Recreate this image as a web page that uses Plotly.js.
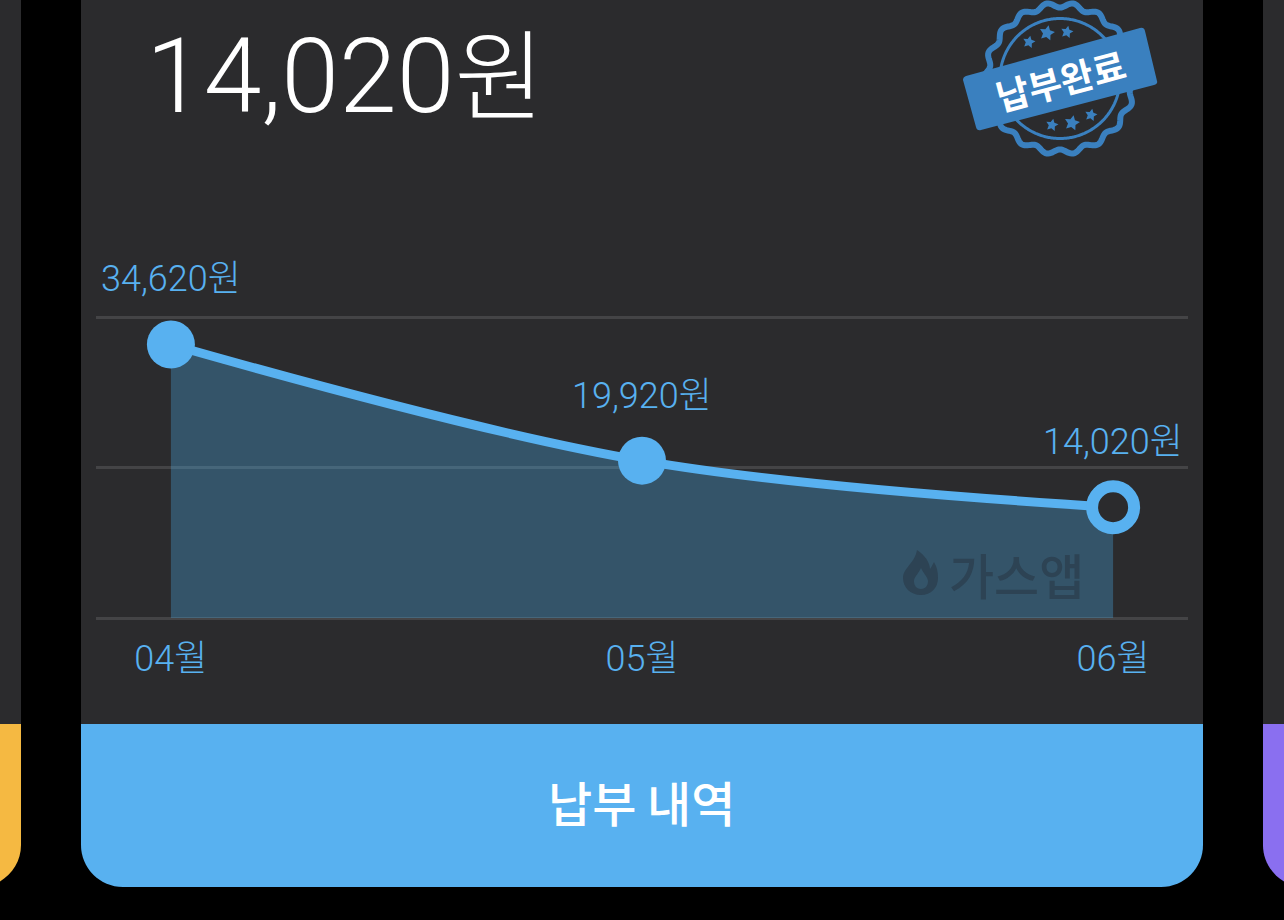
<!DOCTYPE html>
<html>
<head>
<meta charset="utf-8">
<script src="https://cdn.plot.ly/plotly-3.0.1.min.js"></script>
<style>html,body{margin:0;padding:0;background:#000;overflow:hidden}#chart{width:1284px;height:920px}</style>
</head>
<body>
<div id="chart"></div>
<script>
const months = ['04월', '05월', '06월'];
const amounts = [34620, 19920, 14020];
const amountLabels = ['34,620원', '19,920원', '14,020원'];
const gridValues = [0, 19050, 38100];
const headline = '14,020<span style="font-size:98px">원</span>';
const stampText = '납부완료';
const watermarkText = '가스앱';
const buttonText = '납부 내역';

const W = 1284, H = 920;
const KR = '"Noto Sans CJK KR","Noto Sans",sans-serif';
const LATIN = 'Roboto,"Noto Sans CJK KR",sans-serif';
const BLUE = '#58b1f0', CARD = '#2b2b2d', STAMP = '#3a80bf', MARK = '#2d4354';
const px = x => x / W, py = y => 1 - y / H;
const P = (x, y) => px(x).toFixed(5) + ' ' + py(y).toFixed(5);

function bottomRounded(x0, y0, x1, y1, r) {
  const k = r * 0.4477;
  return 'M' + P(x0, y0) + ' L' + P(x1, y0) + ' L' + P(x1, y1 - r) +
    ' C' + P(x1, y1 - k) + ' ' + P(x1 - k, y1) + ' ' + P(x1 - r, y1) +
    ' L' + P(x0 + r, y1) +
    ' C' + P(x0 + k, y1) + ' ' + P(x0, y1 - k) + ' ' + P(x0, y1 - r) + ' Z';
}
function ringPath(cx, cy, rad, amp, waves) {
  let d = '';
  for (let i = 0; i <= 360; i++) {
    const t = i / 360 * 2 * Math.PI, r = rad + amp * Math.cos(waves * t);
    d += (i ? ' L' : 'M') + P(cx + r * Math.cos(t), cy + r * Math.sin(t));
  }
  return d + ' Z';
}
function starPath(cx, cy, r, rot) {
  let d = '';
  for (let i = 0; i < 10; i++) {
    const a = rot + i * Math.PI / 5 - Math.PI / 2, q = i % 2 ? r * 0.5 : r;
    d += (i ? ' L' : 'M') + P(cx + q * Math.cos(a), cy + q * Math.sin(a));
  }
  return d + ' Z';
}
function bannerPath() {
  return 'M' + P(966, 76) + ' L' + P(1140, 28) + ' Q' + P(1144, 27) + ' ' + P(1145, 31) +
    ' L' + P(1157, 81) + ' Q' + P(1158, 84) + ' ' + P(1154, 85) +
    ' L' + P(981, 130) + ' Q' + P(977, 131) + ' ' + P(976, 127) +
    ' L' + P(963, 80) + ' Q' + P(963, 77) + ' ' + P(966, 76) + ' Z';
}
const flamePath =
  'M' + P(921, 595) + ' C' + P(910, 595) + ' ' + P(903, 587) + ' ' + P(903, 578) +
  ' C' + P(903, 568) + ' ' + P(915, 563) + ' ' + P(917, 550) +
  ' C' + P(925, 555) + ' ' + P(930, 563) + ' ' + P(930, 569) +
  ' C' + P(932, 566) + ' ' + P(933, 564) + ' ' + P(934, 562) +
  ' C' + P(937, 567) + ' ' + P(938, 572) + ' ' + P(938, 578) +
  ' C' + P(938, 588) + ' ' + P(931, 595) + ' ' + P(921, 595) + ' Z' +
  ' M' + P(921, 589) + ' C' + P(926, 589) + ' ' + P(928, 585) + ' ' + P(928, 581) +
  ' C' + P(928, 577) + ' ' + P(923, 573) + ' ' + P(921, 568) +
  ' C' + P(919, 573) + ' ' + P(914, 577) + ' ' + P(914, 581) +
  ' C' + P(914, 585) + ' ' + P(916, 589) + ' ' + P(921, 589) + ' Z';

const base = {type: 'path', xref: 'paper', yref: 'paper'};
const solid = (path, color, layer) => Object.assign({}, base, {path, fillcolor: color, line: {width: 0}, layer: layer || 'below'});
const stroke = (path, color, w) => Object.assign({}, base, {path, line: {color, width: w}, layer: 'below'});
const rect = (x0, y0, x1, y1, color) => ({type: 'rect', xref: 'paper', yref: 'paper', x0: px(x0), x1: px(x1), y0: py(y0), y1: py(y1), fillcolor: color, line: {width: 0}, layer: 'below'});

const shapes = [
  rect(-5, -5, 21, 724, CARD),
  rect(81, -5, 1203, 724, CARD),
  rect(1263, -5, 1290, 724, CARD),
  solid(bottomRounded(-60, 724, 21, 887, 42), '#f5b942'),
  solid(bottomRounded(81, 724, 1203, 887, 42), BLUE),
  solid(bottomRounded(1263, 724, 1350, 887, 42), '#8a6ff0'),
  stroke(ringPath(1060, 78.5, 73.5, 2.6, 18), STAMP, 6),
  stroke(ringPath(1060, 78.5, 60, 0, 1), STAMP, 3),
  solid(starPath(1029, 42, 6.5, 0.2), STAMP),
  solid(starPath(1047, 33, 8, 0.2), STAMP),
  solid(starPath(1067, 32, 6.5, 0.2), STAMP),
  solid(starPath(1052, 125, 6.5, 0.2), STAMP),
  solid(starPath(1072, 123, 8, 0.2), STAMP),
  solid(starPath(1091, 115, 6.5, 0.2), STAMP),
  solid(bannerPath(), STAMP),
  solid(flamePath, MARK, 'above')
];

const annotations = amountLabels.map((t, i) => ({
  x: months[i], y: amounts[i], xref: 'x', yref: 'y', text: t, showarrow: false,
  yshift: 65, xanchor: 'center', yanchor: 'middle',
  font: {family: LATIN, size: 36, color: BLUE, weight: 300}
})).concat([
  {xref: 'paper', yref: 'paper', x: px(1060), y: py(79), text: stampText, showarrow: false, textangle: -15,
   xanchor: 'center', yanchor: 'middle', font: {family: KR, size: 36, color: '#ffffff', weight: 700}},
  {xref: 'paper', yref: 'paper', x: px(1017), y: py(573), text: watermarkText, showarrow: false,
   xanchor: 'center', yanchor: 'middle', font: {family: KR, size: 49, color: MARK, weight: 500}},
  {xref: 'paper', yref: 'paper', x: px(641), y: py(801), text: buttonText, showarrow: false,
   xanchor: 'center', yanchor: 'middle', font: {family: KR, size: 48, color: '#ffffff', weight: 500}}
]);

const trace = {
  type: 'scatter', mode: 'lines+markers', x: months, y: amounts,
  line: {shape: 'spline', color: BLUE, width: 9},
  fill: 'tozeroy', fillcolor: 'rgba(75,177,240,0.31)',
  marker: {size: [48, 48, 42], color: [BLUE, BLUE, CARD], opacity: 1,
           line: {color: BLUE, width: [0, 0, 12]}},
  hoverinfo: 'skip', cliponaxis: false
};

const layout = {
  width: W, height: H, autosize: false,
  margin: {l: 0, r: 0, t: 0, b: 0, pad: 0},
  paper_bgcolor: '#000000', plot_bgcolor: 'rgba(0,0,0,0)',
  showlegend: false,
  font: {family: KR},
  title: {text: headline, xref: 'paper', yref: 'paper', x: px(146), xanchor: 'left', y: py(76), yanchor: 'middle',
          font: {family: LATIN, size: 104, color: '#ffffff', weight: 300}},
  xaxis: {domain: [px(96), px(1188)], type: 'category', range: [-0.159, 2.159], tickvals: months, ticktext: months,
          showgrid: false, zeroline: false, showline: false, ticks: 'outside', ticklen: 2, tickcolor: 'rgba(0,0,0,0)',
          tickfont: {family: LATIN, size: 36, color: BLUE, weight: 300}},
  yaxis: {domain: [py(625), py(310)], range: [-886, 38986], tickvals: gridValues, showticklabels: false,
          showgrid: true, gridcolor: '#444446', gridwidth: 3, zeroline: false, showline: false, ticks: ''},
  shapes, annotations
};
Plotly.newPlot('chart', [trace], layout, {displayModeBar: false, staticPlot: true});
</script>
</body>
</html>
